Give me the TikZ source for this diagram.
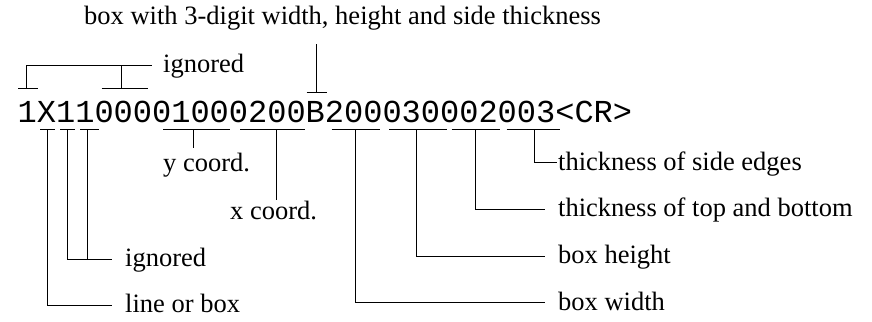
\documentclass[tikz,border=0pt]{standalone}
\usepackage{fontspec}
\setmainfont{Liberation Serif}
\newfontfamily\monof{Liberation Mono}
\begin{document}
\begin{tikzpicture}[x=1pt,y=-1pt,
  lbl/.style={font=\fontsize{26.5}{30}\selectfont, inner sep=0pt, anchor=base west},
  code/.style={font=\monof\fontsize{32}{36}\selectfont, inner sep=0pt, anchor=base west},
  ln/.style={line width=0.9pt, line cap=butt}]
\useasboundingbox (0,0) rectangle (872,321);
% code string
\node[code] (str) at (17.5,122) {1X1100001000200B200030002003<CR>};
% labels
\node[lbl] (title) at (84,25) {box with 3-digit width, height and side thickness};
\node[lbl] (ign1) at (163,73) {ignored};
\node[lbl] (ign2) at (125,266.7) {ignored};
\node[lbl] (lob) at (125,312.3) {line or box};
\node[lbl] (yc) at (163,171.7) {y coord.};
\node[lbl] (xc) at (230,219.3) {x coord.};
\node[lbl] (tse) at (558,170) {thickness of side edges};
\node[lbl] (ttb) at (558,216.5) {thickness of top and bottom};
\node[lbl] (bh) at (558,263.3) {box height};
\node[lbl] (bw) at (558,310) {box width};
% top brackets
\coordinate (t1) at (26.7,88.3);
\coordinate (t2) at (121.7,88.3);
\coordinate (tB) at (316,92.3);
\draw[ln] (18,88.3) -- (38,88.3);
\draw[ln] (101.7,88.3) -- (148.3,88.3);
\draw[ln] (t1) -- (26.7,65) -- (151.7,65);
\draw[ln] (t2) -- (121.7,65);
\draw[ln] (306.7,92.3) -- (326.7,92.3);
\draw[ln] (tB) -- (316,44);
% bottom brackets
\foreach \a/\b in {40/55,60/75,80/99,163/230,240/305,331.7/380,389/446.7,451.7/500,506.7/560}
  \draw[ln] (\a,129.3) -- (\b,129.3);
\draw[ln] (47.7,129.3) -- (47.7,305) -- (112,305);
\draw[ln] (67.7,129.3) -- (67.7,259.3) -- (112,259.3);
\draw[ln] (87.7,129.3) -- (87.7,259.3);
\draw[ln] (193.3,129.3) -- (193.3,148);
\draw[ln] (276.7,129.3) -- (276.7,200);
\draw[ln] (355,129.3) -- (355,302.7) -- (545,302.7);
\draw[ln] (416.5,129.3) -- (416.5,256) -- (545,256);
\draw[ln] (475,129.3) -- (475,209) -- (545,209);
\draw[ln] (534,129.3) -- (534,162.7) -- (557,162.7);
\end{tikzpicture}
\end{document}
